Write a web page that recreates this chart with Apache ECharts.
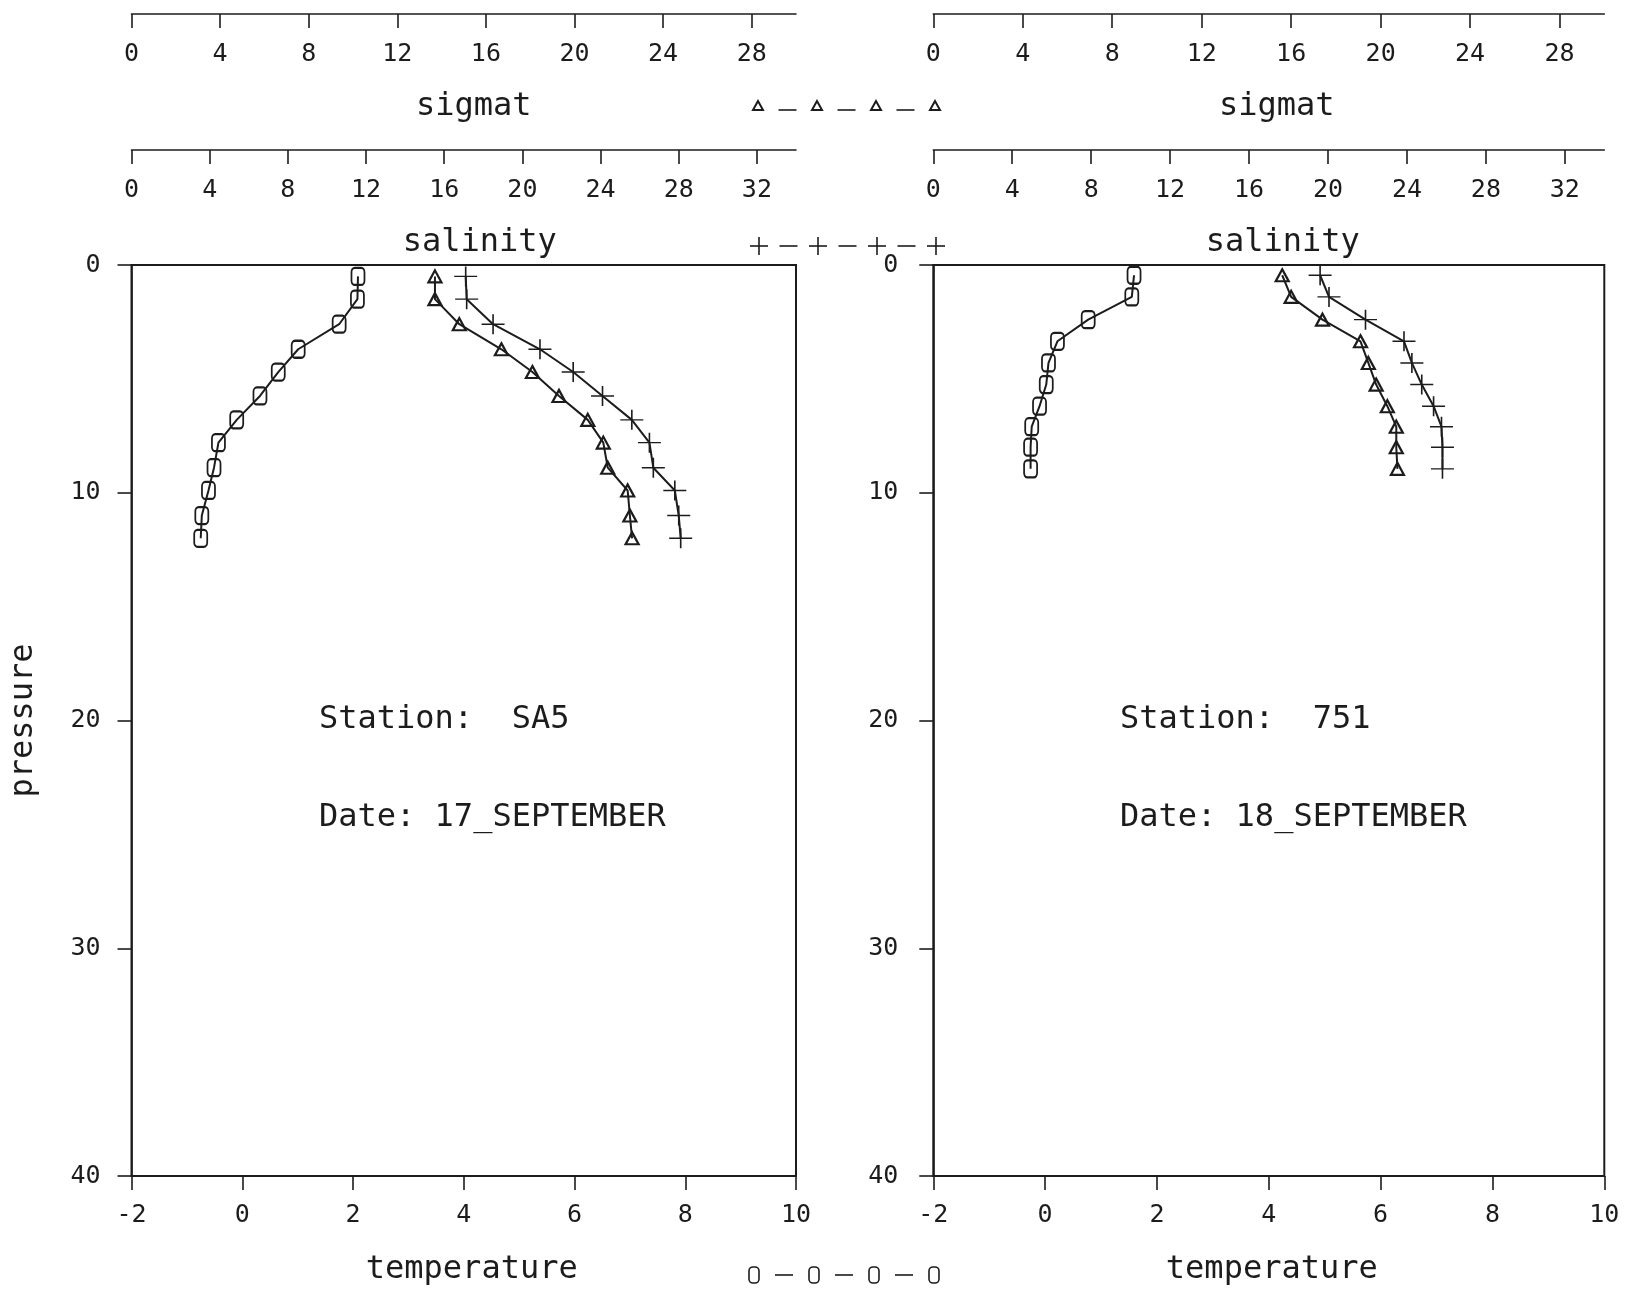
<!DOCTYPE html>
<html><head><meta charset="utf-8">
<script src="https://cdn.jsdelivr.net/npm/echarts@6/dist/echarts.min.js"></script>
<style>html,body{margin:0;padding:0;background:#fff}#c{width:1625px;height:1291px}</style>
</head><body><div id="c"></div>
<script>
// ---- tick labels ----
var sigmatTicks = [0, 4, 8, 12, 16, 20, 24, 28];
var salinityTicks = [0, 4, 8, 12, 16, 20, 24, 28, 32];
var temperatureTicks = [-2, 0, 2, 4, 6, 8, 10];
var pressureTicks = [0, 10, 20, 30, 40];

// ---- Station SA5, 17 September ----
var sa5Pressure = [0.5, 1.5, 2.6, 3.7, 4.7, 5.75, 6.8, 7.8, 8.9, 9.9, 11.0, 12.0];
var sa5Temperature = [2.09, 2.08, 1.75, 1.01, 0.65, 0.32, -0.10, -0.43, -0.51, -0.61, -0.73, -0.75];
var sa5Salinity = [17.1, 17.15, 18.5, 20.9, 22.6, 24.1, 25.6, 26.5, 26.7, 27.8, 28.0, 28.1];
var sa5Sigmat = [13.7, 13.7, 14.8, 16.7, 18.1, 19.3, 20.6, 21.3, 21.5, 22.4, 22.5, 22.6];

// ---- Station 751, 18 September ----
var st751Pressure = [0.45, 1.4, 2.4, 3.35, 4.3, 5.25, 6.2, 7.1, 8.0, 8.95];
var st751Temperature = [1.59, 1.55, 0.77, 0.22, 0.06, 0.02, -0.10, -0.24, -0.26, -0.26];
var st751Salinity = [19.6, 20.05, 21.9, 23.85, 24.25, 24.75, 25.35, 25.75, 25.8, 25.8];
var st751Sigmat = [15.6, 16.0, 17.4, 19.1, 19.45, 19.8, 20.3, 20.7, 20.7, 20.75];

var stationNames = ['SA5', '751'];
var stationDates = ['17_SEPTEMBER', '18_SEPTEMBER'];

var FONT = 'DejaVu Sans Mono';
var INK = '#1c1c1c';
var PLUS = 'path://M0,9.3L20,9.3L20,10.7L0,10.7ZM9.3,0L10.7,0L10.7,20L9.3,20Z';

var grids = [
  {left: 131.5, top: 265, width: 664.5, height: 912.5},
  {left: 933.3, top: 265, width: 671, height: 912.5}
];

function txt(size) { return {fontFamily: FONT, fontSize: size, color: INK}; }
function merge(a, b) { var o = {}; for (var k in a) o[k] = a[k]; for (var k2 in b) o[k2] = b[k2]; return o; }

function tempAxis(gi, padL) {
  return {
    type: 'value', gridIndex: gi, position: 'bottom',
    min: temperatureTicks[0], max: temperatureTicks[temperatureTicks.length - 1], interval: 2,
    axisLine: {show: true, onZero: false, lineStyle: {color: INK, width: 1.6}},
    axisTick: {show: true, length: 14, lineStyle: {color: INK, width: 1.6}},
    axisLabel: merge({margin: 27}, txt(25)),
    splitLine: {show: false},
    name: 'temperature', nameLocation: 'middle', nameGap: 78,
    nameTextStyle: merge({padding: [0, 0, 0, padL]}, txt(32))
  };
}
function topAxis(gi, name, ticks, max, offset, padL) {
  return {
    type: 'value', gridIndex: gi, position: 'top', offset: offset,
    min: 0, max: max, interval: 4,
    axisLine: {show: true, onZero: false, lineStyle: {color: INK, width: 1.6}},
    axisTick: {show: true, inside: true, length: 14, customValues: ticks, lineStyle: {color: INK, width: 1.6}},
    axisLabel: merge({inside: true, margin: 28, customValues: ticks}, txt(25)),
    splitLine: {show: false},
    name: name, nameLocation: 'middle', nameGap: -109,
    nameTextStyle: merge({padding: [0, 0, 0, padL]}, txt(32))
  };
}
function pressureAxis(gi, withName, margin) {
  var a = {
    type: 'value', gridIndex: gi, inverse: true,
    min: pressureTicks[0], max: pressureTicks[pressureTicks.length - 1], interval: 10,
    axisLine: {show: true, onZero: false, lineStyle: {color: INK, width: 1.6}},
    axisTick: {show: true, length: 14, lineStyle: {color: INK, width: 1.6}},
    axisLabel: merge({margin: margin}, txt(25)),
    splitLine: {show: false}
  };
  if (withName) {
    a.name = 'pressure'; a.nameLocation = 'middle'; a.nameGap = 92;
    a.nameTextStyle = txt(32);
  }
  return a;
}

function profile(name, xs, ps, xAxisIndex, yAxisIndex, kind) {
  var s = {
    name: name, type: 'line', xAxisIndex: xAxisIndex, yAxisIndex: yAxisIndex,
    data: xs.map(function (v, i) { return [v, ps[i]]; }),
    lineStyle: {color: INK, width: 2},
    showSymbol: true, z: 3
  };
  if (kind === 'circle') {
    s.symbol = 'roundRect'; s.symbolSize = [13, 17];
    s.itemStyle = {color: 'rgba(0,0,0,0)', borderColor: INK, borderWidth: 2};
  } else if (kind === 'triangle') {
    s.symbol = 'triangle'; s.symbolSize = [13, 12];
    s.itemStyle = {color: 'rgba(0,0,0,0)', borderColor: INK, borderWidth: 2.2};
  } else {
    s.symbol = PLUS; s.symbolSize = [23, 20];
    s.itemStyle = {color: INK};
  }
  return s;
}

// legend keys (pattern marker-dash-marker...)
function key(kind, xs, y, dashDy) {
  var els = [];
  for (var i = 0; i < xs.length; i++) {
    var x = xs[i];
    if (kind === 'triangle') {
      els.push({type: 'polygon', shape: {points: [[x, y - 5], [x - 5, y + 4], [x + 5, y + 4]]},
        style: {fill: 'none', stroke: INK, lineWidth: 2}});
    } else if (kind === 'plus') {
      els.push({type: 'line', shape: {x1: x - 9, y1: y, x2: x + 9, y2: y}, style: {stroke: INK, lineWidth: 1.6}});
      els.push({type: 'line', shape: {x1: x, y1: y - 9, x2: x, y2: y + 9}, style: {stroke: INK, lineWidth: 1.6}});
    } else {
      els.push({type: 'rect', shape: {x: x - 5, y: y - 8, width: 10, height: 16, r: 4},
        style: {fill: 'none', stroke: INK, lineWidth: 1.6}});
    }
    if (i < xs.length - 1) {
      var mid = (x + xs[i + 1]) / 2;
      els.push({type: 'line', shape: {x1: mid - 9, y1: y + dashDy, x2: mid + 9, y2: y + dashDy},
        style: {stroke: INK, lineWidth: 1.6}});
    }
  }
  return els;
}

var stationText = [];
[[319, 0], [1120, 1]].forEach(function (p) {
  var x = p[0], i = p[1];
  stationText.push({type: 'text', x: x, y: 720,
    style: {text: 'Station:  ' + stationNames[i], fontFamily: FONT, fontSize: 32, fill: INK, verticalAlign: 'middle'}});
  stationText.push({type: 'text', x: x, y: 818,
    style: {text: 'Date: ' + stationDates[i], fontFamily: FONT, fontSize: 32, fill: INK, verticalAlign: 'middle'}});
});

var option = {
  animation: false,
  backgroundColor: '#fff',
  grid: grids.map(function (g) { return merge({show: true, borderColor: INK, borderWidth: 2,
    backgroundColor: 'rgba(0,0,0,0)'}, g); }),
  xAxis: [
    tempAxis(0, 16),
    topAxis(0, 'salinity', salinityTicks, 34, 115, 32),
    topAxis(0, 'sigmat', sigmatTicks, 30, 251, 20),
    tempAxis(1, 6),
    topAxis(1, 'salinity', salinityTicks, 34, 115, 28),
    topAxis(1, 'sigmat', sigmatTicks, 30, 251, 16)
  ],
  yAxis: [pressureAxis(0, true, 31), pressureAxis(1, false, 35)],
  series: [
    profile('temperature SA5', sa5Temperature, sa5Pressure, 0, 0, 'circle'),
    profile('salinity SA5', sa5Salinity, sa5Pressure, 1, 0, 'plus'),
    profile('sigmat SA5', sa5Sigmat, sa5Pressure, 2, 0, 'triangle'),
    profile('temperature 751', st751Temperature, st751Pressure, 3, 1, 'circle'),
    profile('salinity 751', st751Salinity, st751Pressure, 4, 1, 'plus'),
    profile('sigmat 751', st751Sigmat, st751Pressure, 5, 1, 'triangle')
  ],
  graphic: [].concat(
    stationText,
    key('triangle', [758, 817, 876, 935], 106, 4),
    key('plus', [759, 818, 877, 936], 246, 0),
    key('circle', [754, 814, 874, 934], 1275, 0)
  )
};
var chart = echarts.init(document.getElementById('c'), null, {renderer: 'canvas'});
window.chart = chart;
chart.setOption(option);
</script>
</body></html>
